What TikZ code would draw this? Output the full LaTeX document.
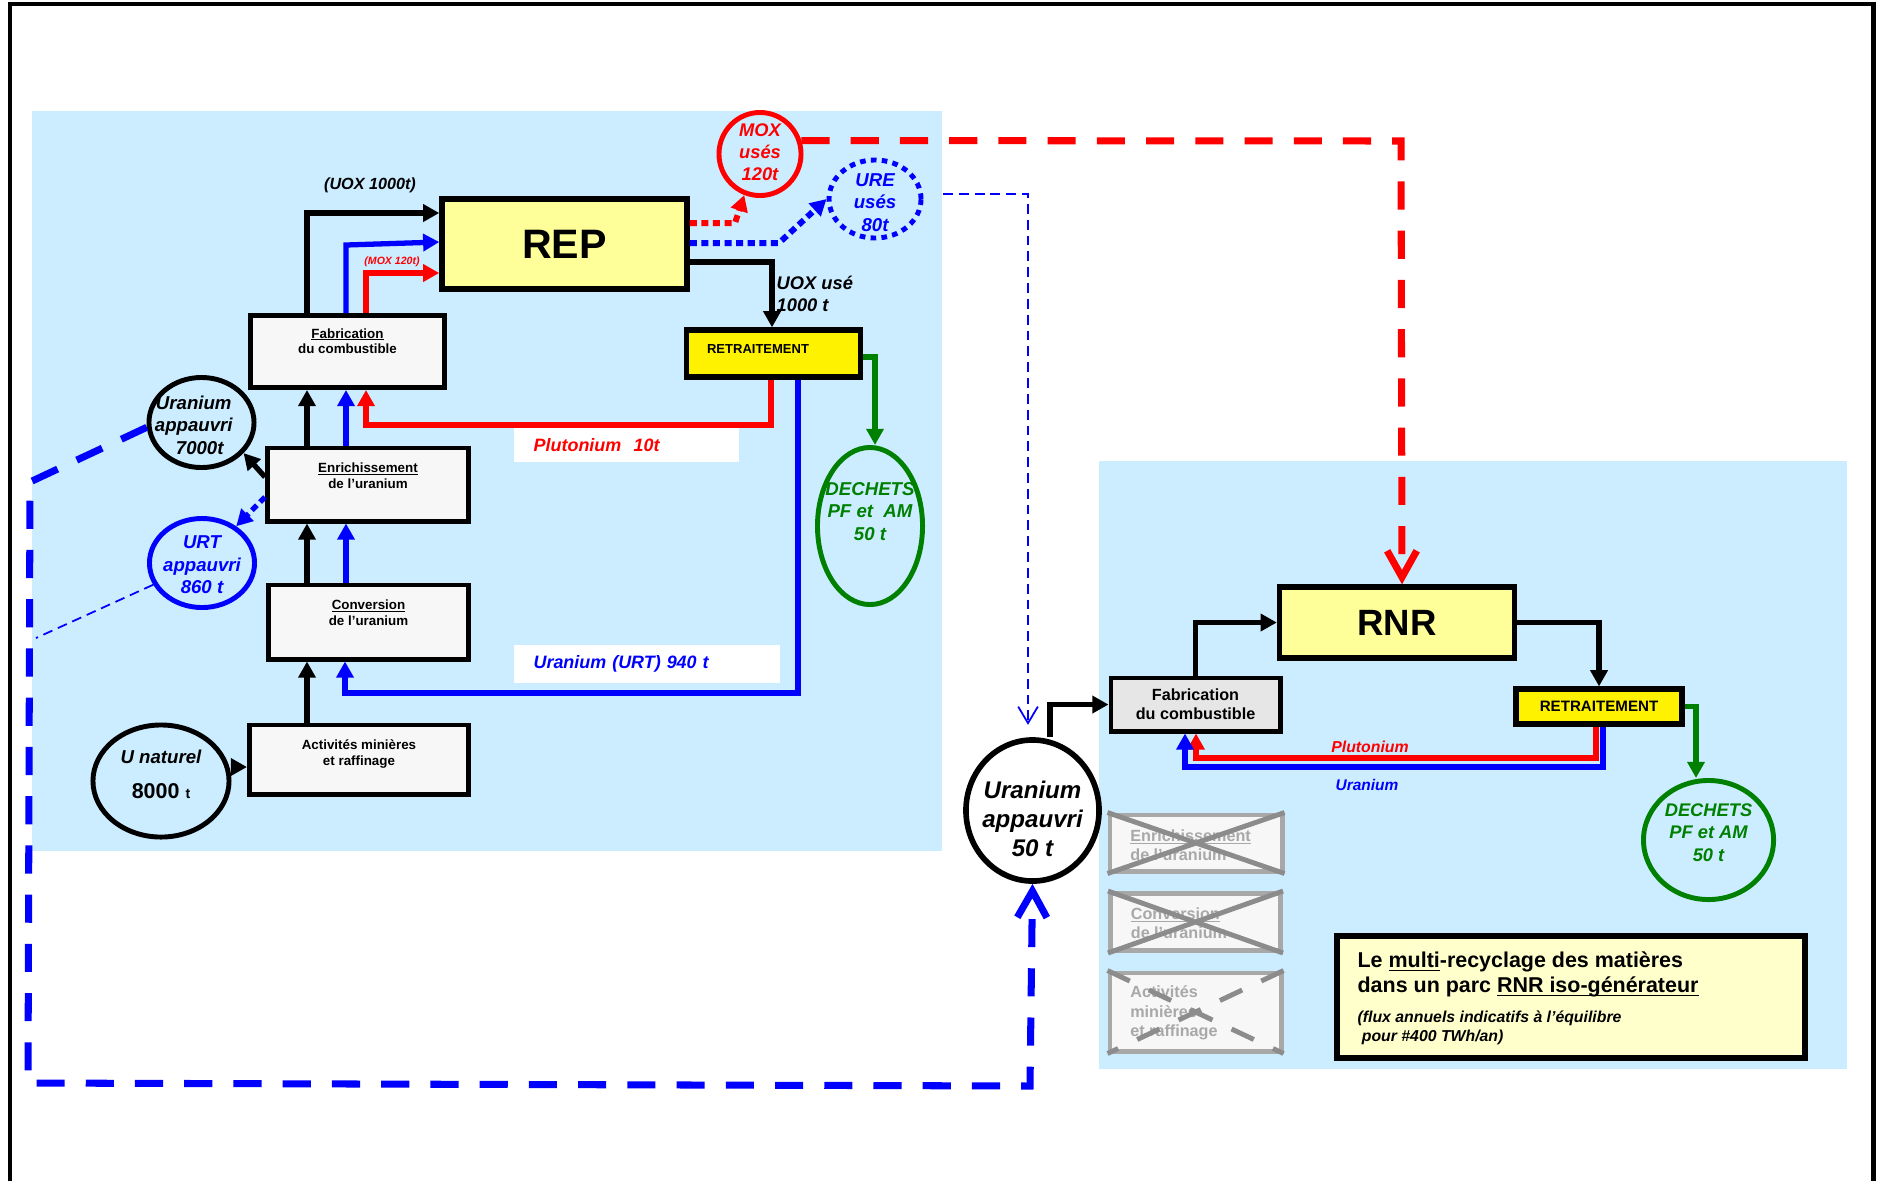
\documentclass[tikz,border=0pt]{standalone}
\usepackage{fontspec}
\setmainfont{Liberation Sans}
\usetikzlibrary{shapes.geometric,arrows.meta}

\definecolor{panelblue}{RGB}{204,236,255}
\definecolor{paleyellow}{RGB}{255,255,153}
\definecolor{boxgray}{RGB}{247,247,247}
\definecolor{fabgray}{RGB}{230,230,230}
\definecolor{titleyellow}{RGB}{255,255,204}
\definecolor{wastegreen}{RGB}{0,128,0}
\definecolor{crossgray}{RGB}{168,168,168}
\definecolor{xgray}{RGB}{140,140,140}

% text at the top of a box: [align]{width}{height}{first baseline}{text}
\newcommand{\boxtext}[5][\centering]{\parbox[c][#3][t]{#2}{#1\rule{0pt}{#4}#5}}
% text in an ellipse, without widening it: [raise]{lines}
\newcommand{\ovaltext}[2][0pt]{\smash{\makebox[0pt]{\raisebox{#1}{\begin{tabular}{@{}c@{}}#2\end{tabular}}}}}
% underline close to the text
\newcommand{\under}[1]{\setbox0=\hbox{#1}\leavevmode\rlap{\vrule height -0.1em depth 0.17em width \wd0}\box0}

\tikzstyle{box}=[draw, line width=1.4pt, fill=boxgray, inner sep=0pt, font=\fontsize{3.8}{4.5}\selectfont\bfseries]
\tikzstyle{reactor}=[draw, line width=1.5pt, fill=paleyellow, inner sep=0pt]
\tikzstyle{retbox}=[draw, line width=1.5pt, fill=yellow, inner sep=0pt]
\tikzstyle{crossbox}=[draw=crossgray, line width=1.4pt, fill=boxgray, text=crossgray, inner sep=0pt, font=\fontsize{4.6}{5.5}\selectfont\bfseries]
\tikzstyle{crossline}=[draw=xgray, line width=1.4pt]
\tikzstyle{oval}=[ellipse, draw, line width=1.4pt, inner sep=0pt, font=\fontsize{5.3}{6.4}\selectfont\bfseries\itshape]
\tikzstyle{flowlabel}=[inner sep=0pt, font=\fontsize{5.1}{6.2}\selectfont\bfseries\itshape]
\tikzstyle{whitelabel}=[fill=white, inner xsep=5.6pt, inner ysep=0pt, align=left, font=\fontsize{5.1}{6.2}\selectfont\bfseries\itshape]
\tikzstyle{flow}=[line width=1.5pt, -{Triangle[length=4.6pt,width=4.8pt]}]
\tikzstyle{dotflow}=[line width=1.7pt, dash pattern=on 2pt off 1.3pt, -{Triangle[length=4.6pt,width=4.8pt]}]
\tikzstyle{recycle}=[line width=2pt, dash pattern=on 8pt off 6pt, -{Straight Barb[length=7.5pt,width=8.4pt]}]
\tikzstyle{thinflow}=[line width=0.5pt, dash pattern=on 2.8pt off 1.7pt]

\begin{document}
\begin{tikzpicture}[x=0.01cm, y=-0.01cm]
\useasboundingbox (0,0) rectangle (1877,1181);
\draw[line width=1.4pt] (10,1181) -- (10,4) -- (1873,4) -- (1873,1181);
\fill[panelblue] (32,111) rectangle (942,851);
\fill[panelblue] (1099,461) rectangle (1847,1069);

% REP cycle
\node[reactor, minimum width=2.45cm, minimum height=0.9cm, font=\fontsize{11.7}{14}\selectfont\bfseries] at (564.5,244) (rep) {REP};
\node[box] at (347.5,351.5) (fabl) {\boxtext{1.94cm}{0.72cm}{6.4pt}{\under{Fabrication}\\du combustible}};
\node[box] at (368,484.5) (enr) {\boxtext{2.01cm}{0.73cm}{6.9pt}{\under{Enrichissement}\\de l'uranium}};
\node[box] at (368.5,622) (conv) {\boxtext{2cm}{0.74cm}{7pt}{\under{Conversion}\\de l'uranium}};
\node[box] at (359,759.5) (act) {\boxtext{2.19cm}{0.69cm}{6.9pt}{Activités minières\\et raffinage}};
\node[retbox, font=\fontsize{3.7}{4.4}\selectfont\bfseries] at (773.5,353.5) (retl) {\boxtext{1.74cm}{0.47cm}{6.6pt}{RETRAITEMENT\hspace*{8.8pt}}};

\node[oval, draw=red, text=red, font=\fontsize{5.2}{6.3}\selectfont\bfseries\itshape, minimum width=0.82cm, minimum height=0.83cm] at (760,154) (moxuse) {\ovaltext[-1.3pt]{MOX\\usés\\120t}};
\node[oval, draw=blue, text=blue, dash pattern=on 1.6pt off 1.5pt, minimum width=0.92cm, minimum height=0.78cm] at (875,199) (ureuse) {\ovaltext[-2.7pt]{URE\\usés\\80t}};
\node[oval, minimum width=1.05cm, minimum height=0.9cm] at (201.5,422.5) (uapp) {\ovaltext[-2.6pt]{Uranium\hspace*{4.4pt}\\appauvri\hspace*{4.4pt}\\7000t\hspace*{1pt}}};
\node[oval, draw=blue, text=blue, minimum width=1.05cm, minimum height=0.89cm] at (202,563) (urt) {\ovaltext[-2.3pt]{URT\\appauvri\\860 t}};
\node[oval, minimum width=1.36cm, minimum height=1.12cm] at (161,781) (unat) {\ovaltext{U naturel\\[3.5pt]{\fontsize{6.1}{7}\selectfont\upshape 8000 {\fontsize{4}{5}\selectfont t}}}};
\node[oval, draw=wastegreen, text=wastegreen, minimum width=1.05cm, minimum height=1.57cm] at (870,526) (dechl) {\ovaltext[2.4pt]{DECHETS\\PF et~ AM\\50 t}};

\node[flowlabel, font=\fontsize{4.6}{5.5}\selectfont\bfseries\itshape] at (370,185) (uoxlab) {(UOX 1000t)};
\node[flowlabel, text=red, font=\fontsize{3}{3.6}\selectfont\bfseries\itshape] at (392,262) (moxlab) {(MOX 120t)};
\node[flowlabel, anchor=west, align=left, font=\fontsize{5.2}{6.3}\selectfont\bfseries\itshape] at (776,294) (uoxuse) {UOX usé\\1000 t};
\node[whitelabel, text=red, text width=52.8pt, minimum height=0.34cm] at (626.5,445) (plulab) {Plutonium\hspace{3.5pt}10t};
\node[whitelabel, text=blue, text width=64.5pt, minimum height=0.38cm] at (647,664) (uralab) {Uranium (URT) 940 t};

\draw[flow] (fabl.north -| 307,0) |- (rep.west |- 0,213);
\draw[flow, blue] (fabl.north -| 346,0) -- (346,245) -- (rep.west |- 0,242);
\draw[flow, red] (fabl.north -| 366,0) |- (rep.west |- 0,273);
\draw[dotflow, red] (rep.east |- 0,223) -- (735,223) -- (moxuse.249);
\draw[dotflow, blue] (rep.east |- 0,243) -- (779,243) -- (ureuse.west);
\draw[flow] (rep.east |- 0,262) -| (retl.north -| 772,0);
\draw[flow, red] (retl.south -| 771,0) -- (771,425) -| (fabl.south -| 366,0);
\draw[flow, blue] (retl.south -| 798,0) -- (798,693) -| (conv.south -| 345,0);
\draw[flow, wastegreen] (retl.east |- 0,357) -| (dechl.north -| 875,0);
\draw[flow] (enr.north -| 307,0) -- (fabl.south -| 307,0);
\draw[flow, blue] (enr.north -| 346,0) -- (fabl.south -| 346,0);
\draw[flow] (conv.north -| 307,0) -- (enr.south -| 307,0);
\draw[flow, blue] (conv.north -| 346,0) -- (enr.south -| 346,0);
\draw[flow] (act.north -| 307,0) -- (conv.south -| 307,0);
\draw[flow] (unat.east |- 0,767) -- (act.west |- 0,767);
\draw[flow] (enr.west |- 0,477) -- (uapp.-36);
\draw[dotflow, blue, line width=1.5pt] (enr.west |- 0,497) -- (urt.47);

% RNR cycle
\node[reactor, minimum width=2.35cm, minimum height=0.71cm, font=\fontsize{10.4}{12.5}\selectfont\bfseries] at (1397,622.5) (rnr) {RNR};
\node[box, fill=fabgray, minimum width=1.69cm, minimum height=0.53cm, align=center, font=\fontsize{4.6}{5.5}\selectfont\bfseries] at (1195.5,704.5) (fabr) {Fabrication\\du combustible};
\node[retbox, minimum width=1.66cm, minimum height=0.35cm, font=\fontsize{4.3}{5.2}\selectfont\bfseries] at (1599,706.5) (retr) {RETRAITEMENT};
\node[oval, fill=white, line width=1.6pt, font=\fontsize{6.85}{8.2}\selectfont\bfseries\itshape, minimum width=1.33cm, minimum height=1.41cm] at (1032.5,810.5) (uapp50) {\ovaltext[-5pt]{Uranium\\appauvri\\50 t}};
\node[oval, draw=wastegreen, text=wastegreen, font=\fontsize{5.2}{6.4}\selectfont\bfseries\itshape, minimum width=1.3cm, minimum height=1.19cm] at (1708.5,840) (dechr) {\ovaltext[0.4pt]{DECHETS\\PF et AM\\50 t}};
\node[flowlabel, text=red, font=\fontsize{4.5}{5.4}\selectfont\bfseries\itshape] at (1370,747) (plurnr) {Plutonium};
\node[flowlabel, text=blue, font=\fontsize{4.4}{5.3}\selectfont\bfseries\itshape] at (1367,785) (urarnr) {Uranium};

\node[crossbox] at (1196,843) (enrx) {\boxtext[\raggedright\leftskip=5.8pt]{1.72cm}{0.56cm}{7.4pt}{\under{Enrichissement}\\de l'uranium}};
\node[crossbox] at (1195.5,922) (convx) {\boxtext[\raggedright\leftskip=5.8pt]{1.7cm}{0.57cm}{7.3pt}{\under{Conversion}\\de l'uranium}};
\node[crossbox] at (1195.5,1012) (actx) {\boxtext[\raggedright\leftskip=5.8pt]{1.71cm}{0.78cm}{7.1pt}{Activités\\minières\\et raffinage}};
\draw[crossline] (enrx.north west) -- (enrx.south east) (enrx.north east) -- (enrx.south west);
\draw[crossline] (convx.north west) -- (convx.south east) (convx.north east) -- (convx.south west);
\draw[crossline, dash pattern=on 7pt off 6pt] (actx.north west) -- (actx.south east) (actx.north east) -- (actx.south west);

\node[draw, line width=1.6pt, fill=titleyellow, inner sep=0pt, font=\bfseries] at (1571,997) (title) {\boxtext[\raggedright\leftskip=5.9pt]{4.68cm}{1.22cm}{9pt}{\fontsize{6.1}{7.1}\selectfont Le \under{multi}-recyclage des matières\\dans un parc \under{RNR iso-générateur}\par\vspace{3.2pt}\fontsize{4.5}{5.4}\selectfont\itshape (flux annuels indicatifs à l'équilibre\\\hspace*{1.2pt}pour \#400 TWh/an)}};

\draw[flow] (uapp50.north -| 1050,0) |- (fabr.west);
\draw[flow] (fabr.north) |- (rnr.west);
\draw[flow] (rnr.east) -| (retr.north);
\draw[flow, red] (retr.south -| 1596,0) -- (1596,758) -| (fabr.south -| 1196,0);
\draw[flow, blue] (retr.south -| 1603,0) -- (1603,767) -| (fabr.south -| 1185,0);
\draw[flow, wastegreen] (retr.east) -| (dechr.north -| 1696,0);

% depleted uranium and spent MOX
\coordinate (urtend) at (36,638);
\coordinate (ureout) at (943,194);
\draw[recycle, blue] (uapp.185) -- (30,482) -- (28,1083) -- (1030,1086) -- (uapp50.south);
\draw[thinflow, blue] (urt.204) -- (urtend);
\draw[thinflow, blue, -{Straight Barb[length=4.7pt,width=5.6pt]}, shorten >=3.5pt] (ureout) -- (1028,194) -- (uapp50.north -| 1028,0);
\draw[recycle, red] (moxuse.18) -- (1401,141) -- (rnr.north -| 1402,0);
\end{tikzpicture}
\end{document}
